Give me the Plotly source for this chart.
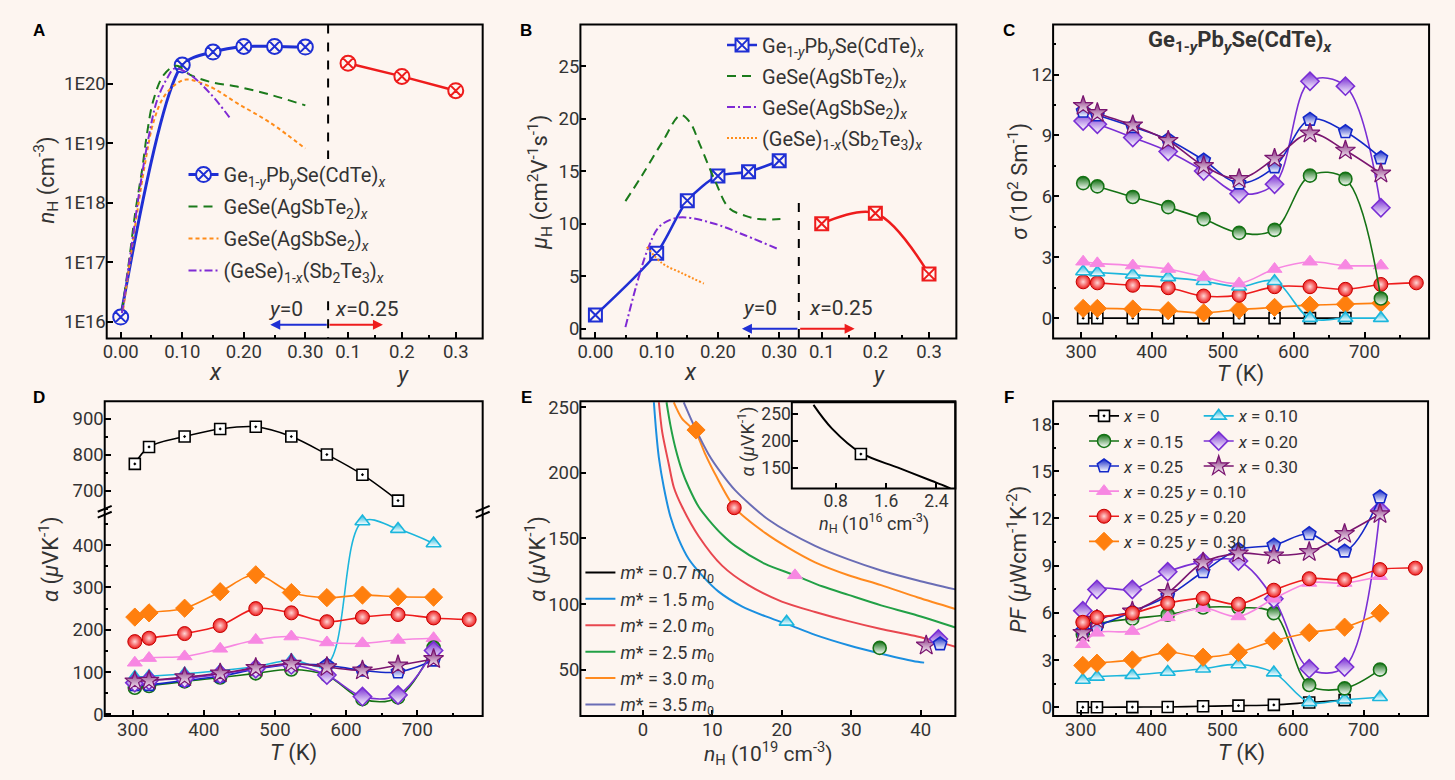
import plotly.graph_objects as go

W, H = 1455, 780
BG = "#fdf5f0"
FONT = "Roboto, Arial, sans-serif"
TXT = "#333333"


def fx(p):
    return p / W


def fy(p):
    return 1 - p / H


# ---------------- Panel A data : n_H ----------------
a_x = [0.00, 0.10, 0.15, 0.20, 0.25, 0.30]
a_nH_x = [1.2e16, 2.05e20, 3.4e20, 4.2e20, 4.2e20, 4.1e20]
a_y = [0.1, 0.2, 0.3]
a_nH_y = [2.2e20, 1.32e20, 7.6e19]
a_agsbte_x = [0.002, 0.013, 0.024, 0.035, 0.043, 0.053, 0.070, 0.091, 0.113, 0.145, 0.189, 0.243, 0.300]
a_agsbte_n = [1.5e16, 9.5e16, 7.2e17, 3.7e18, 1.5e19, 5.2e19, 1.4e20, 2.0e20, 1.4e20, 1.07e20, 8.9e19, 6.5e19, 4.3e19]
a_agsbse_x = [0.004, 0.024, 0.040, 0.053, 0.070, 0.091, 0.107, 0.145, 0.189, 0.243, 0.300]
a_agsbse_n = [1.6e16, 4.4e17, 4.8e18, 2.2e19, 6.0e19, 1.0e20, 1.17e20, 8.9e19, 4.7e19, 2.2e19, 8.1e18]
a_sbte_x = [0.002, 0.018, 0.032, 0.045, 0.059, 0.075, 0.088, 0.113, 0.145, 0.178]
a_sbte_n = [1.4e16, 2.0e17, 2.0e18, 1.2e19, 5.2e19, 1.2e20, 1.8e20, 1.4e20, 6.9e19, 2.6e19]
a_ytick_vals = [1e16, 1e17, 1e18, 1e19, 1e20]
a_ytick_text = ["1E16", "1E17", "1E18", "1E19", "1E20"]

# ---------------- Panel B data : mobility ----------------
b_x = [0.00, 0.10, 0.15, 0.20, 0.25, 0.30]
b_mu_x = [1.3, 7.2, 12.2, 14.55, 14.95, 16.0]
b_y = [0.1, 0.2, 0.3]
b_mu_y = [10.0, 11.0, 5.2]
b_agsbte_x = [0.049, 0.076, 0.109, 0.139, 0.155, 0.169, 0.196, 0.218, 0.245, 0.267, 0.302]
b_agsbte_mu = [12.15, 14.6, 17.76, 20.35, 19.6, 17.76, 14.0, 11.5, 10.75, 10.44, 10.44]
b_agsbse_x = [0.049, 0.071, 0.087, 0.103, 0.125, 0.147, 0.196, 0.245, 0.300]
b_agsbse_mu = [0.15, 4.98, 7.8, 9.65, 10.44, 10.6, 9.97, 8.88, 7.54]
b_sbte_x = [0.084, 0.109, 0.141, 0.177]
b_sbte_mu = [7.8, 6.23, 5.3, 4.3]

# ---------------- Temperatures ----------------
T10 = [303, 323, 373, 423, 473, 523, 573, 623, 673, 723]
T9 = [303, 323, 373, 423, 473, 523, 573, 623, 673]
T11 = [303, 323, 373, 423, 473, 523, 573, 623, 673, 723, 773]

# ---------------- Panel C : sigma (10^2 S/m) ----------------
sig_x0 = [0.0, 0.0, 0.0, 0.0, 0.0, 0.0, 0.0, 0.0, 0.0]
sig_x10 = [2.3, 2.25, 2.14, 2.01, 1.82, 1.55, 1.82, 0.0, 0.0, 0.0]
sig_x15 = [6.65, 6.49, 5.97, 5.47, 4.88, 4.2, 4.35, 7.02, 6.86, 0.97]
sig_x20 = [9.71, 9.55, 8.9, 8.21, 7.25, 6.13, 6.6, 11.67, 11.43, 5.44]
sig_x25 = [10.19, 10.0, 9.43, 8.79, 7.78, 6.65, 7.45, 9.79, 9.18, 7.89]
sig_x30 = [10.46, 10.11, 9.5, 8.74, 7.5, 6.86, 7.86, 9.1, 8.26, 7.13]
sig_y10 = [2.78, 2.7, 2.59, 2.42, 2.03, 1.71, 2.42, 2.78, 2.59, 2.59]
sig_y20 = [1.79, 1.74, 1.62, 1.5, 1.09, 1.13, 1.55, 1.55, 1.42, 1.66, 1.74]
sig_y30 = [0.48, 0.48, 0.45, 0.37, 0.26, 0.42, 0.53, 0.64, 0.69, 0.74]

# ---------------- Panel D : Seebeck (uV/K) ----------------
alp_x0 = [774, 821, 850, 871, 877, 850, 800, 744, 672]
alp_x10 = [88, 90, 96, 103, 113, 128, 118, 456, 438, 404]
alp_x15 = [63, 67, 78, 87, 97, 106, 92, 36, 40, 158]
alp_x20 = [75, 80, 85, 95, 108, 117, 93, 42, 46, 151]
alp_x25 = [70, 70, 80, 90, 107, 118, 116, 104, 100, 128]
alp_x30 = [78, 80, 88, 97, 110, 120, 112, 104, 116, 131]
alp_y10 = [122, 133, 137, 155, 176, 184, 170, 168, 176, 180]
alp_y20 = [172, 180, 191, 210, 250, 240, 219, 230, 236, 228, 224]
alp_y30 = [230, 240, 251, 290, 330, 288, 276, 282, 278, 277]

# ---------------- Panel E : Pisarenko curves ----------------
e_m15_n = [1.58, 1.91, 2.3, 3.01, 3.96, 5.16, 6.6, 8.51, 10.9, 14.25, 17.6, 20.9, 24.8, 29.6, 34.3, 39.6, 40.5]
e_m15_a = [253.7, 231.3, 211.4, 189.0, 166.7, 149.3, 134.3, 121.9, 109.5, 98.3, 90.8, 84.5, 76.5, 68.6, 62.2, 56.0, 55.4]
e_m20_n = [2.3, 2.77, 3.73, 4.45, 5.64, 8.03, 11.4, 15.2, 20.0, 24.8, 29.6, 34.3, 39.1, 45.0]
e_m20_a = [253.7, 231.3, 206.5, 189.0, 174.1, 151.7, 129.3, 114.4, 101.9, 94.0, 87.0, 81.0, 75.8, 67.5]
e_m25_n = [3.4, 3.96, 4.68, 5.64, 6.6, 8.03, 9.47, 11.4, 13.3, 17.6, 21.9, 25.8, 29.6, 34.3, 39.1, 45.0]
e_m25_a = [253.7, 236.3, 218.9, 201.5, 189.0, 174.1, 164.2, 153.0, 144.3, 130.6, 121.9, 113.6, 107.0, 99.0, 92.0, 82.1]
e_m30_n = [4.45, 5.64, 7.55, 8.99, 10.4, 13.3, 17.6, 20.9, 24.8, 29.6, 34.3, 39.6, 45.0]
e_m30_a = [253.7, 241.3, 231.3, 214.0, 199.0, 172.9, 154.2, 143.0, 131.8, 122.0, 114.4, 105.0, 96.3]
e_m35_n = [5.88, 7.55, 9.47, 11.4, 13.3, 18.1, 24.8, 29.6, 34.3, 39.6, 45.0]
e_m35_a = [253.7, 233.8, 214.0, 199.0, 186.6, 164.2, 144.3, 134.0, 125.6, 118.0, 111.2]
e_pts = {
    "y30": (7.65, 232.6), "y20": (13.15, 173.4), "y10": (21.9, 121.9), "x10": (20.7, 86.4),
    "x15": (34.1, 66.6), "x30": (40.8, 68.5), "x20": (42.55, 73.4), "x25": (42.8, 69.6),
}
e_in_n = [0.447, 0.737, 1.2, 1.79, 2.32, 2.48, 2.62]
e_in_a = [266, 223, 178, 151, 127, 120, 113]
e_in_pt_n = [1.2]
e_in_pt_a = [176]

# ---------------- Panel F : power factor ----------------
pf_x0 = [0.0, 0.0, 0.01, 0.02, 0.06, 0.1, 0.15, 0.3, 0.45]
pf_x10 = [1.73, 1.93, 2.04, 2.24, 2.45, 2.72, 2.2, 0.31, 0.48, 0.64]
pf_x15 = [4.63, 5.25, 5.63, 5.88, 6.34, 6.34, 5.98, 1.41, 1.2, 2.39]
pf_x20 = [6.14, 7.49, 7.49, 8.61, 9.24, 9.3, 6.9, 2.45, 2.56, 12.53]
pf_x25 = [4.84, 5.15, 6.07, 7.07, 8.61, 10.02, 10.3, 11.02, 9.92, 13.36]
pf_x30 = [4.73, 5.57, 6.09, 7.27, 9.2, 9.78, 9.66, 9.87, 11.02, 12.28]
pf_y10 = [4.0, 4.73, 4.84, 5.71, 6.3, 5.77, 6.9, 7.9, 7.9, 8.33]
pf_y20 = [5.4, 5.71, 5.98, 6.61, 6.92, 6.55, 7.44, 8.17, 8.11, 8.75, 8.84]
pf_y30 = [2.66, 2.8, 3.01, 3.49, 3.18, 3.49, 4.22, 4.74, 5.09, 5.98]

# ---------------- Styles ----------------
C_BLUE = "#1f2fd4"
C_RED = "#ee1c1c"
C_GREEN = "#1b7a1b"
C_ORANGE = "#ff8c1a"
C_PURPLE = "#7f2ad4"

COL = {"x0": "#000000", "x10": "#1cb6dc", "x15": "#157215", "x20": "#7a2fd4",
       "x25": "#1428c8", "x30": "#7a1570", "y10": "#f787e2", "y20": "#ee1c1c", "y30": "#ff7f0e"}


def mk(key):
    c = COL[key]
    half = dict(type="vertical", color="white")
    if key == "x0":
        return dict(symbol="square-dot", size=11, color="white", line=dict(color="black", width=1.6))
    if key == "x10":
        return dict(symbol="triangle-up", size=13, color=c, gradient=half, line=dict(color=c, width=1.6))
    if key == "x15":
        return dict(symbol="circle", size=13, color=c, gradient=half, line=dict(color=c, width=1.6))
    if key == "x20":
        return dict(symbol="diamond", size=14, color=c, gradient=half, line=dict(color=c, width=1.6))
    if key == "x25":
        return dict(symbol="pentagon", size=14, color=c, gradient=half, line=dict(color=c, width=1.6))
    if key == "x30":
        return dict(symbol="star", size=15, color=c, gradient=half, line=dict(color=c, width=1.2))
    if key == "y10":
        return dict(symbol="triangle-up", size=13, color=c, line=dict(color=c, width=1))
    if key == "y20":
        return dict(symbol="circle", size=14, color=c, gradient=dict(type="radial", color="#ffd6d6"),
                    line=dict(color="#c40000", width=1))
    if key == "y30":
        return dict(symbol="diamond", size=14, color=c, line=dict(color=c, width=1))


NAMES = {
    "x0": "<i>x</i> = 0", "x10": "<i>x</i> = 0.10", "x15": "<i>x</i> = 0.15", "x20": "<i>x</i> = 0.20",
    "x25": "<i>x</i> = 0.25", "x30": "<i>x</i> = 0.30",
    "y10": "<i>x</i> = 0.25 <i>y</i> = 0.10", "y20": "<i>x</i> = 0.25 <i>y</i> = 0.20",
    "y30": "<i>x</i> = 0.25 <i>y</i> = 0.30",
}

fig = go.Figure()


def series(x, y, key, xa, ya, legend=None):
    fig.add_trace(go.Scatter(
        x=x, y=y, mode="lines+markers", xaxis=xa, yaxis=ya,
        line=dict(color=COL[key], width=1.6, shape="spline", smoothing=1.0),
        marker=mk(key), name=NAMES[key],
        showlegend=legend is not None, legend=legend if legend else "legend",
    ))


# ---------------- Panel A traces ----------------
LEGA = dict(showlegend=True, legend="legend")
fig.add_trace(go.Scatter(x=a_x, y=a_nH_x, xaxis="x", yaxis="y", mode="lines+markers",
                         name="Ge<sub>1-<i>y</i></sub>Pb<sub><i>y</i></sub>Se(CdTe)<sub><i>x</i></sub>",
                         legendgroup="a1",
                         line=dict(color=C_BLUE, width=3, shape="spline", smoothing=0.8),
                         marker=dict(symbol="circle-x", size=15, color=BG, line=dict(color=C_BLUE, width=2)),
                         **LEGA))
fig.add_trace(go.Scatter(x=a_agsbte_x, y=a_agsbte_n, xaxis="x", yaxis="y", mode="lines",
                         name="GeSe(AgSbTe<sub>2</sub>)<sub><i>x</i></sub>", legendgroup="a2",
                         line=dict(color=C_GREEN, width=2, dash="9px,6px", shape="spline"), **LEGA))
fig.add_trace(go.Scatter(x=a_agsbse_x, y=a_agsbse_n, xaxis="x", yaxis="y", mode="lines",
                         name="GeSe(AgSbSe<sub>2</sub>)<sub><i>x</i></sub>", legendgroup="a3",
                         line=dict(color=C_ORANGE, width=2, dash="4px,3px", shape="spline"), **LEGA))
fig.add_trace(go.Scatter(x=a_sbte_x, y=a_sbte_n, xaxis="x", yaxis="y", mode="lines",
                         name="(GeSe)<sub>1-<i>x</i></sub>(Sb<sub>2</sub>Te<sub>3</sub>)<sub><i>x</i></sub>",
                         legendgroup="a4",
                         line=dict(color=C_PURPLE, width=2, dash="8px,3px,2px,3px", shape="spline"), **LEGA))
fig.add_trace(go.Scatter(x=a_y, y=a_nH_y, xaxis="x2", yaxis="y", mode="lines+markers", showlegend=False,
                         line=dict(color=C_RED, width=2.5),
                         marker=dict(symbol="circle-x", size=15, color=BG, line=dict(color=C_RED, width=2))))

# ---------------- Panel B traces ----------------
LEGB = dict(showlegend=True, legend="legend2")
fig.add_trace(go.Scatter(x=b_x, y=b_mu_x, xaxis="x3", yaxis="y2", mode="lines+markers",
                         name="Ge<sub>1-<i>y</i></sub>Pb<sub><i>y</i></sub>Se(CdTe)<sub><i>x</i></sub>",
                         legendgroup="b1",
                         line=dict(color=C_BLUE, width=2.5, shape="spline", smoothing=0.8),
                         marker=dict(symbol="square-x", size=13, color=BG, line=dict(color=C_BLUE, width=2)),
                         **LEGB))
fig.add_trace(go.Scatter(x=b_agsbte_x, y=b_agsbte_mu, xaxis="x3", yaxis="y2", mode="lines",
                         name="GeSe(AgSbTe<sub>2</sub>)<sub><i>x</i></sub>", legendgroup="b2",
                         line=dict(color=C_GREEN, width=2, dash="9px,6px", shape="spline"), **LEGB))
fig.add_trace(go.Scatter(x=b_agsbse_x, y=b_agsbse_mu, xaxis="x3", yaxis="y2", mode="lines",
                         name="GeSe(AgSbSe<sub>2</sub>)<sub><i>x</i></sub>", legendgroup="b3",
                         line=dict(color=C_PURPLE, width=2, dash="8px,3px,2px,3px", shape="spline"), **LEGB))
fig.add_trace(go.Scatter(x=b_sbte_x, y=b_sbte_mu, xaxis="x3", yaxis="y2", mode="lines",
                         name="(GeSe)<sub>1-<i>x</i></sub>(Sb<sub>2</sub>Te<sub>3</sub>)<sub><i>x</i></sub>",
                         legendgroup="b4",
                         line=dict(color=C_ORANGE, width=2, dash="2px,2px", shape="spline"), **LEGB))
fig.add_trace(go.Scatter(x=b_y, y=b_mu_y, xaxis="x4", yaxis="y2", mode="lines+markers", showlegend=False,
                         line=dict(color=C_RED, width=2.5, shape="spline", smoothing=1.0),
                         marker=dict(symbol="square-x", size=13, color=BG, line=dict(color=C_RED, width=2))))

# ---------------- Panel C traces ----------------
series(T9, sig_x0, "x0", "x5", "y3")
series(T10, sig_y30, "y30", "x5", "y3")
series(T11, sig_y20, "y20", "x5", "y3")
series(T10, sig_x10, "x10", "x5", "y3")
series(T10, sig_y10, "y10", "x5", "y3")
series(T10, sig_x15, "x15", "x5", "y3")
series(T10, sig_x20, "x20", "x5", "y3")
series(T10, sig_x25, "x25", "x5", "y3")
series(T10, sig_x30, "x30", "x5", "y3")

# ---------------- Panel D traces ----------------
series(T9, alp_x0, "x0", "x6", "y5")
series(T10, alp_x10, "x10", "x6", "y4")
series(T10, alp_y30, "y30", "x6", "y4")
series(T11, alp_y20, "y20", "x6", "y4")
series(T10, alp_y10, "y10", "x6", "y4")
series(T10, alp_x15, "x15", "x6", "y4")
series(T10, alp_x25, "x25", "x6", "y4")
series(T10, alp_x20, "x20", "x6", "y4")
series(T10, alp_x30, "x30", "x6", "y4")

# ---------------- Panel E traces ----------------
LEGE = dict(legend="legend3", showlegend=True)
fig.add_trace(go.Scatter(x=e_in_n, y=e_in_a, xaxis="x8", yaxis="y7", mode="lines",
                         name="<i>m</i>* = 0.7 <i>m</i><sub>0</sub>", legendrank=1,
                         line=dict(color="black", width=2, shape="spline"), **LEGE))
fig.add_trace(go.Scatter(x=e_in_pt_n, y=e_in_pt_a, xaxis="x8", yaxis="y7", mode="markers", showlegend=False,
                         marker=mk("x0")))
e_curves = [
    (e_m15_n, e_m15_a, "#1b8fe0", "1.5"),
    (e_m20_n, e_m20_a, "#e8474f", "2.0"),
    (e_m25_n, e_m25_a, "#22a046", "2.5"),
    (e_m30_n, e_m30_a, "#ff8a1f", "3.0"),
    (e_m35_n, e_m35_a, "#6a6db5", "3.5"),
]
for i, (n, a, c, lab) in enumerate(e_curves):
    fig.add_trace(go.Scatter(x=n, y=a, xaxis="x7", yaxis="y6", mode="lines", legendrank=2 + i,
                             name="<i>m</i>* = " + lab + " <i>m</i><sub>0</sub>",
                             line=dict(color=c, width=2, shape="spline", smoothing=0.8), **LEGE))
for key in ["y30", "y20", "y10", "x10", "x15", "x30", "x20", "x25"]:
    px_, py_ = e_pts[key]
    fig.add_trace(go.Scatter(x=[px_], y=[py_], xaxis="x7", yaxis="y6", mode="markers",
                             showlegend=False, marker=mk(key)))

# ---------------- Panel F traces ----------------
series(T9, pf_x0, "x0", "x9", "y8", legend="legend4")
series(T10, pf_x10, "x10", "x9", "y8", legend="legend5")
series(T10, pf_x15, "x15", "x9", "y8", legend="legend4")
series(T10, pf_x20, "x20", "x9", "y8", legend="legend5")
series(T10, pf_x25, "x25", "x9", "y8", legend="legend4")
series(T10, pf_x30, "x30", "x9", "y8", legend="legend5")
series(T10, pf_y10, "y10", "x9", "y8", legend="legend4")
series(T11, pf_y20, "y20", "x9", "y8", legend="legend4")
series(T10, pf_y30, "y30", "x9", "y8", legend="legend4")


# ---------------- Axes ----------------
def axis(domain, rng, anchor, dtick=None, tick0=0, minor=None, fmt=None, log=False,
         tickvals=None, ticktext=None, fs=18.5):
    d = dict(domain=domain, range=rng, anchor=anchor, showgrid=False, zeroline=False, showline=False,
             ticks="inside", ticklen=6, tickwidth=2, tickcolor="black",
             tickfont=dict(size=fs, color=TXT, family=FONT), fixedrange=True)
    if log:
        d["type"] = "log"
    if tickvals is not None:
        d.update(tickmode="array", tickvals=tickvals, ticktext=ticktext)
    elif dtick is not None:
        d.update(tickmode="linear", dtick=dtick, tick0=tick0)
    if fmt:
        d["tickformat"] = fmt
    if minor:
        d["minor"] = dict(tickmode="linear", tick0=0, dtick=minor, ticks="inside", ticklen=3,
                          tickwidth=1.5, tickcolor="black")
    return d


top_dom = [fy(340), fy(20)]
bot_dom = [fy(725), fy(404)]

layout_axes = dict(
    xaxis=axis([fx(103), fx(325)], [-0.0227, 0.337], "y", dtick=0.1, fmt=".2f", minor=0.05),
    xaxis2=axis([fx(325), fx(480)], [0.063, 0.35], "y", dtick=0.1, fmt=".1f", minor=0.05),
    yaxis=axis(top_dom, [15.72, 20.99], "x", log=True, tickvals=a_ytick_vals, ticktext=a_ytick_text),
    xaxis3=axis([fx(578), fx(797)], [-0.0245, 0.332], "y2", dtick=0.1, fmt=".2f", minor=0.05),
    xaxis4=axis([fx(797), fx(955)], [0.0573, 0.351], "y2", dtick=0.1, fmt=".1f", minor=0.05),
    yaxis2=axis(top_dom, [-0.93, 28.97], "x3", dtick=5),
    xaxis5=axis([fx(1052), fx(1429)], [260.6, 791], "y3", dtick=100, minor=50),
    yaxis3=axis(top_dom, [-1.0, 14.46], "x5", dtick=3, minor=1.5),
    xaxis6=axis([fx(101), fx(480)], [260.7, 792], "y4", dtick=100, minor=50),
    yaxis4=axis([fy(725), fy(516.7)], [-4, 479], "x6", dtick=100, minor=50),
    yaxis5=axis([fy(516.7), fy(404)], [641, 948], "x6", dtick=100, minor=50),
    xaxis7=axis([fx(578), fx(954)], [-9, 45], "y6", dtick=10),
    yaxis6=axis(bot_dom, [14.7, 254.5], "x7", dtick=50),
    xaxis8=axis([fx(790), fx(954)], [0.103, 2.70], "y7", dtick=0.8, fmt=".1f", fs=17.5),
    yaxis7=axis([fy(493), fy(405)], [112.8, 271], "x8", dtick=50, fs=17.5),
    xaxis9=axis([fx(1052), fx(1428)], [261, 791], "y8", dtick=100, minor=50),
    yaxis8=axis(bot_dom, [-0.56, 19.45], "x9", dtick=3, minor=1.5),
)

# ---------------- Shapes (frames, separators, axis breaks) ----------------
shapes = []
frames = [(103, 20, 480, 340), (578, 20, 955, 340), (1052, 20, 1429, 340),
          (101, 404, 480, 725), (578, 404, 954, 725), (1052, 404, 1428, 725), (790, 405, 954, 493)]
for (x0, y0, x1, y1) in frames:
    shapes.append(dict(type="rect", xref="paper", yref="paper", x0=fx(x0), x1=fx(x1), y0=fy(y1), y1=fy(y0),
                       line=dict(color="black", width=2), layer="above"))
for (xp, ya, yb) in [(325, 20, 157), (325, 302, 340), (797, 202, 340)]:
    shapes.append(dict(type="line", xref="paper", yref="paper", x0=fx(xp), x1=fx(xp), y0=fy(ya), y1=fy(yb),
                       line=dict(color="black", width=2, dash="dash")))
for xb in [101, 480]:
    for dy in [-3, 3]:
        shapes.append(dict(type="line", xref="paper", yref="paper",
                           x0=fx(xb - 7), x1=fx(xb + 7), y0=fy(516.7 + dy + 3), y1=fy(516.7 + dy - 3),
                           line=dict(color="black", width=2)))

# ---------------- Annotations ----------------
ann = []


def text(px, py, s, size=22, angle=0, bold=False, family=FONT, color=TXT, xanchor="center"):
    ann.append(dict(x=fx(px), y=fy(py), xref="paper", yref="paper", text=s, showarrow=False,
                    textangle=angle, xanchor=xanchor, yanchor="middle",
                    font=dict(size=size, family=family, color=color)))


for lab, (px, py) in zip("ABCDEF", [(35, 26), (523, 26), (1008, 26), (35, 400), (524, 400), (1008, 400)]):
    text(px, py, "<b>" + lab + "</b>", size=17, family="Arial, Liberation Sans, sans-serif", color="black")

text(42, 178, "<i>n</i><sub>H</sub> (cm<sup>-3</sup>)", angle=-90)
text(212, 375, "<i>x</i>", size=23)
text(400, 377, "<i>y</i>", size=22)
text(537, 181, "<i>μ</i><sub>H</sub> (cm<sup>2</sup>V<sup>-1</sup>s<sup>-1</sup>)", angle=-90)
text(688, 375, "<i>x</i>", size=23)
text(877, 377, "<i>y</i>", size=22)
text(1017, 180, "<i>σ</i> (10<sup>2</sup> Sm<sup>-1</sup>)", angle=-90)
text(1240, 376, "<i>T</i> (K)")
text(1240, 37, "<b>Ge<sub>1-<i>y</i></sub>Pb<sub><i>y</i></sub>Se(CdTe)<sub><i>x</i></sub></b>", size=22)
text(45, 565, "<i>α</i> (<i>μ</i>VK<sup>-1</sup>)", angle=-90)
text(290, 763, "<i>T</i> (K)")
text(533, 565, "<i>α</i> (<i>μ</i>VK<sup>-1</sup>)", angle=-90)
text(767, 763, "<i>n</i><sub>H</sub> (10<sup>19</sup> cm<sup>-3</sup>)", size=21)
text(745, 445, "<i>α</i> (<i>μ</i>VK<sup>-1</sup>)", size=18, angle=-90)
text(872, 528, "<i>n</i><sub>H</sub> (10<sup>16</sup> cm<sup>-3</sup>)", size=18)
text(1016, 565, "<i>PF</i> (<i>μ</i>Wcm<sup>-1</sup>K<sup>-2</sup>)", angle=-90)
text(1241, 763, "<i>T</i> (K)")

# y=0 / x=0.25 markers with arrows
for (dash_x, yt, ya, blue_head, red_head, ytx, xtx) in [
        (325, 310, 326, 267, 380, 283, 364), (797, 309, 330, 740, 853, 758, 839)]:
    text(ytx, yt, "<i>y</i>=0", size=21)
    text(xtx, yt, "<i>x</i>=0.25", size=21)
    ann.append(dict(x=fx(blue_head), y=fy(ya), xref="paper", yref="paper", text="", showarrow=True,
                    ax=dash_x - blue_head, ay=0, arrowhead=2, arrowsize=1, arrowwidth=2, arrowcolor=C_BLUE))
    ann.append(dict(x=fx(red_head), y=fy(ya), xref="paper", yref="paper", text="", showarrow=True,
                    ax=dash_x - red_head, ay=0, arrowhead=2, arrowsize=1, arrowwidth=2, arrowcolor=C_RED))


def leg(px, py, size, gap=0):
    return dict(x=fx(px), y=fy(py), xanchor="left", yanchor="top", bgcolor="rgba(0,0,0,0)",
                borderwidth=0, font=dict(size=size, family=FONT, color=TXT),
                tracegroupgap=gap, traceorder="grouped" if gap else "normal", itemclick=False)


fig.update_layout(
    width=W, height=H, margin=dict(l=0, r=0, t=0, b=0),
    paper_bgcolor=BG, plot_bgcolor=BG,
    font=dict(family=FONT, color=TXT, size=18),
    showlegend=True,
    legend=leg(180, 153, 20, gap=3),
    legend2=leg(720, 21, 20, gap=2),
    legend3=leg(578, 560, 18),
    legend4=leg(1083, 401, 17),
    legend5=leg(1198, 401, 17),
    shapes=shapes, annotations=ann,
    **layout_axes,
)

fig.write_html("out.html")
